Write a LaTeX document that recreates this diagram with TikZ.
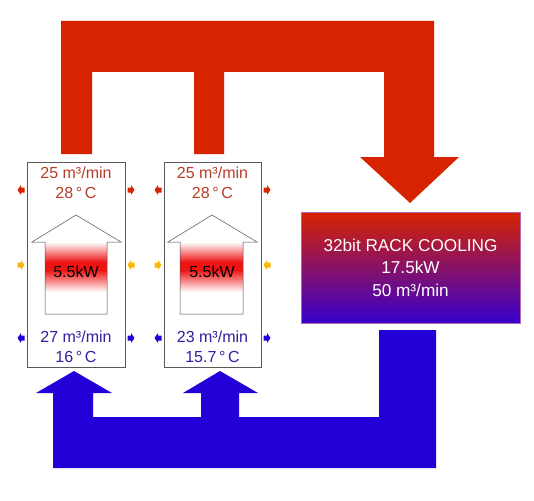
\documentclass[tikz,border=0pt]{standalone}
\usepackage{fontspec}
\setmainfont{Liberation Sans}
\definecolor{rojoflujo}{RGB}{216, 35, 0}
\definecolor{azulflujo}{RGB}{35, 0, 215}
\definecolor{rojotxt}{RGB}{185, 60, 40}
\definecolor{azultxt}{RGB}{50, 30, 160}
\definecolor{amarillo}{RGB}{250, 185, 10}
\definecolor{calor}{RGB}{238, 20, 20}
\definecolor{moradofin}{RGB}{55, 0, 205}
\usetikzlibrary{positioning}

\tikzset{
  unidad/.style={draw=gray!70!black, line width=0.6pt, fill=white, inner sep=0pt},
  enfriador/.style={draw=violet!60, line width=0.5pt, top color=rojoflujo, bottom color=moradofin,
    text=white, align=center, inner sep=0pt, font=\fontsize{17.2}{22.5}\selectfont},
  dato/.style={align=center, inner sep=0pt, font=\fontsize{16}{20}\selectfont},
  potencia/.style={inner sep=0pt, font=\fontsize{16}{20}\selectfont}
}

\begin{document}
\begin{tikzpicture}[x=1pt, y=-1pt]
        \useasboundingbox (0,0) rectangle (534,500);
        % hot air going to the rack cooler
        \fill[rojoflujo] (61,154) -- (61,21) -- (434,21) -- (434,157) -- (459,157) -- (410,203)
          -- (360,157) -- (384,157) -- (384,72) -- (224,72) -- (224,154) -- (194,154)
          -- (194,72) -- (92,72) -- (92,154) -- cycle;
        % cold air coming back
        \fill[azulflujo] (379,330) -- (436,330) -- (436,468) -- (53,468) -- (53,393) -- (36,393)
          -- (74,371) -- (112,393) -- (93,393) -- (93,417) -- (201,417) -- (201,393)
          -- (183,393) -- (220,371) -- (258,393) -- (239,393) -- (239,417) -- (379,417) -- cycle;
        % the two units
        \node[unidad, minimum width=98pt, minimum height=205pt] (unitA) at (76,264.5) {};
        \node[unidad, minimum width=97pt, minimum height=205pt] (unitB) at (212.5,264.5) {};
        \foreach \c/\l/\h/\s/\r in {76/32/121/45/107, 212/168/257/180/243} {
          \shade[top color=white, bottom color=calor] (\s,242) rectangle (\r,262);
          \fill[calor] (\s,262) rectangle (\r,270);
          \shade[top color=calor, bottom color=white] (\s,270) rectangle (\r,292);
          \draw[gray!60!black, line width=0.5pt] (\s,314) -- (\s,242) -- (\l,242) -- (\c,215)
            -- (\h,242) -- (\r,242) -- (\r,314) -- cycle;
        }
        \node[potencia] (powA) at (76,272) {5.5kW};
        \node[potencia] (powB) at (212,272) {5.5kW};
        \node[dato, rojotxt] (hotA) at (76,183) {25 m³/min\\28\,°\,C};
        \node[dato, rojotxt] (hotB) at (212.5,183) {25 m³/min\\28\,°\,C};
        \node[dato, azultxt] (coldA) at (76,347) {27 m³/min\\16\,°\,C};
        \node[dato, azultxt] (coldB) at (212.5,347) {23 m³/min\\15.7\,°\,C};
        % small side arrows
        \foreach \x/\y/\d/\col in {21/190/-1/rojoflujo, 131/190/1/rojoflujo, 158/190/-1/rojoflujo, 267/190/1/rojoflujo,
                                 21/265/1/amarillo, 131/265/-1/amarillo, 158/265/1/amarillo, 267/265/-1/amarillo,
                                 21/338/-1/azulflujo, 131/338/1/azulflujo, 158/338/-1/azulflujo, 267/338/1/azulflujo}
          \fill[\col, shift={(\x,\y)}, xscale=\d] (-3.5,-2.5) -- (0,-2.5) -- (0,-5) -- (3.5,0)
            -- (0,5) -- (0,2.5) -- (-3.5,2.5) -- cycle;
        % rack cooler
        \node[enfriador, minimum width=219pt, minimum height=111pt] (cool) at (410.5,267.5)
          {32bit RACK COOLING\\17.5kW\\50 m³/min};
      \end{tikzpicture}
\end{document}
